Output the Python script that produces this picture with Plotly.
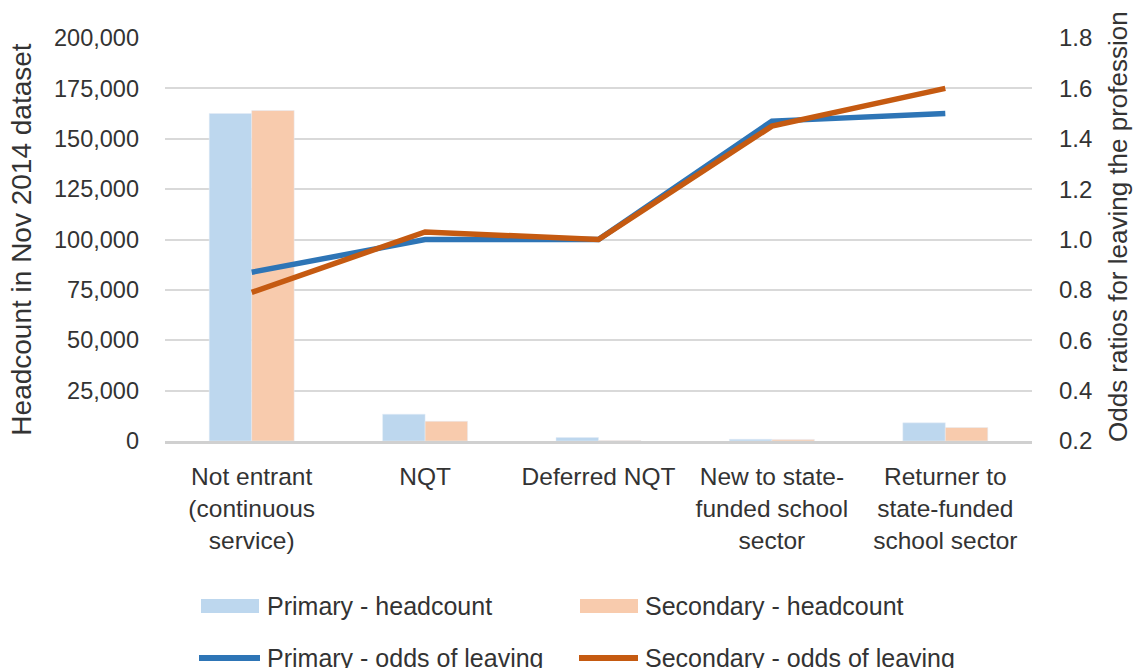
import plotly.graph_objects as go

categories = ["Not entrant<br>(continuous<br>service)", "NQT", "Deferred NQT",
              "New to state-<br>funded school<br>sector", "Returner to<br>state-funded<br>school sector"]
primary_headcount = [162500, 13300, 1700, 850, 9000]
secondary_headcount = [164000, 9800, 200, 800, 6700]
primary_odds = [0.87, 1.00, 1.00, 1.47, 1.50]
secondary_odds = [0.79, 1.03, 1.00, 1.45, 1.60]
y1_ticks = [0, 25000, 50000, 75000, 100000, 125000, 150000, 175000, 200000]
y2_ticks = [0.2, 0.4, 0.6, 0.8, 1.0, 1.2, 1.4, 1.6, 1.8]

FONT = "Liberation Sans, Arial, DejaVu Sans"
TXT = "#333333"
C_PB, C_SB, C_PL, C_SL = "#BDD7EE", "#F8CBAD", "#2E75B6", "#C55A11"

L, R, T, B = 165, 1032, 38, 441
PW, PH = R - L, B - T

x = list(range(len(categories)))
fig = go.Figure()
fig.add_bar(x=x, y=primary_headcount, marker_color=C_PB, name="Primary - headcount")
fig.add_bar(x=x, y=secondary_headcount, marker_color=C_SB, name="Secondary - headcount")
fig.add_scatter(x=x, y=primary_odds, yaxis="y2", mode="lines",
                line=dict(color=C_PL, width=5.5), name="Primary - odds of leaving")
fig.add_scatter(x=x, y=secondary_odds, yaxis="y2", mode="lines",
                line=dict(color=C_SL, width=5.5), name="Secondary - odds of leaving")

fig.update_layout(
    width=1136, height=668,
    margin=dict(l=L, r=1136 - R, t=T, b=668 - B, autoexpand=False),
    paper_bgcolor="white", plot_bgcolor="white",
    font=dict(family=FONT, size=24, color=TXT),
    barmode="group", bargap=0.51, bargroupgap=0,
    showlegend=False,
    xaxis=dict(tickmode="array", tickvals=x, ticktext=categories,
               range=[-0.5, 4.5], showline=True, linecolor="#d0d0d0", linewidth=2.5,
               ticks="", showgrid=False, zeroline=False, tickfont=dict(size=24.5),
               ticklabelstandoff=12),
    yaxis=dict(range=[0, 200000], tickvals=y1_ticks, tickformat=",",
               showgrid=True, gridcolor="#d9d9d9", gridwidth=2, zeroline=False,
               ticklabelstandoff=25, tickfont=dict(size=23.5),
               title=dict(text="Headcount in Nov 2014 dataset", standoff=14,
                          font=dict(size=28))),
    yaxis2=dict(range=[0.2, 1.8], tickvals=y2_ticks, tickformat=".1f",
                overlaying="y", side="right", showgrid=False, zeroline=False,
                ticklabelstandoff=26, tickfont=dict(size=24)),
)

def px(xp):
    return (xp - L) / PW

def py(yp):
    return (B - yp) / PH

# right axis title as rotated annotation
fig.add_annotation(xref="paper", yref="paper", x=px(1118), y=py(227),
                   text="Odds ratios for leaving the profession", textangle=-90,
                   showarrow=False, xanchor="center", yanchor="middle",
                   font=dict(size=26, color=TXT))

# manual legend (positions in pixels converted to paper coordinates)
legend_items = [
    ("rect", C_PB, "Primary - headcount", 201, 259, 606, 267),
    ("rect", C_SB, "Secondary - headcount", 580, 638, 606, 645),
    ("line", C_PL, "Primary - odds of leaving", 199, 260, 658, 267),
    ("line", C_SL, "Secondary - odds of leaving", 579, 638, 658, 645),
]
for kind, col, label, x0, x1, yc, tx in legend_items:
    if kind == "rect":
        fig.add_shape(type="rect", xref="paper", yref="paper",
                      x0=px(x0), x1=px(x1), y0=py(yc + 7), y1=py(yc - 7),
                      fillcolor=col, line=dict(width=0))
    else:
        fig.add_shape(type="line", xref="paper", yref="paper",
                      x0=px(x0), x1=px(x1), y0=py(yc), y1=py(yc),
                      line=dict(color=col, width=6))
    fig.add_annotation(xref="paper", yref="paper", x=px(tx), y=py(yc),
                       text=label, showarrow=False, xanchor="left", yanchor="middle",
                       xshift=-2, font=dict(size=25, color=TXT))

fig.write_html("out.html", config={"displayModeBar": False},
               post_script="document.body.style.margin='0';")
